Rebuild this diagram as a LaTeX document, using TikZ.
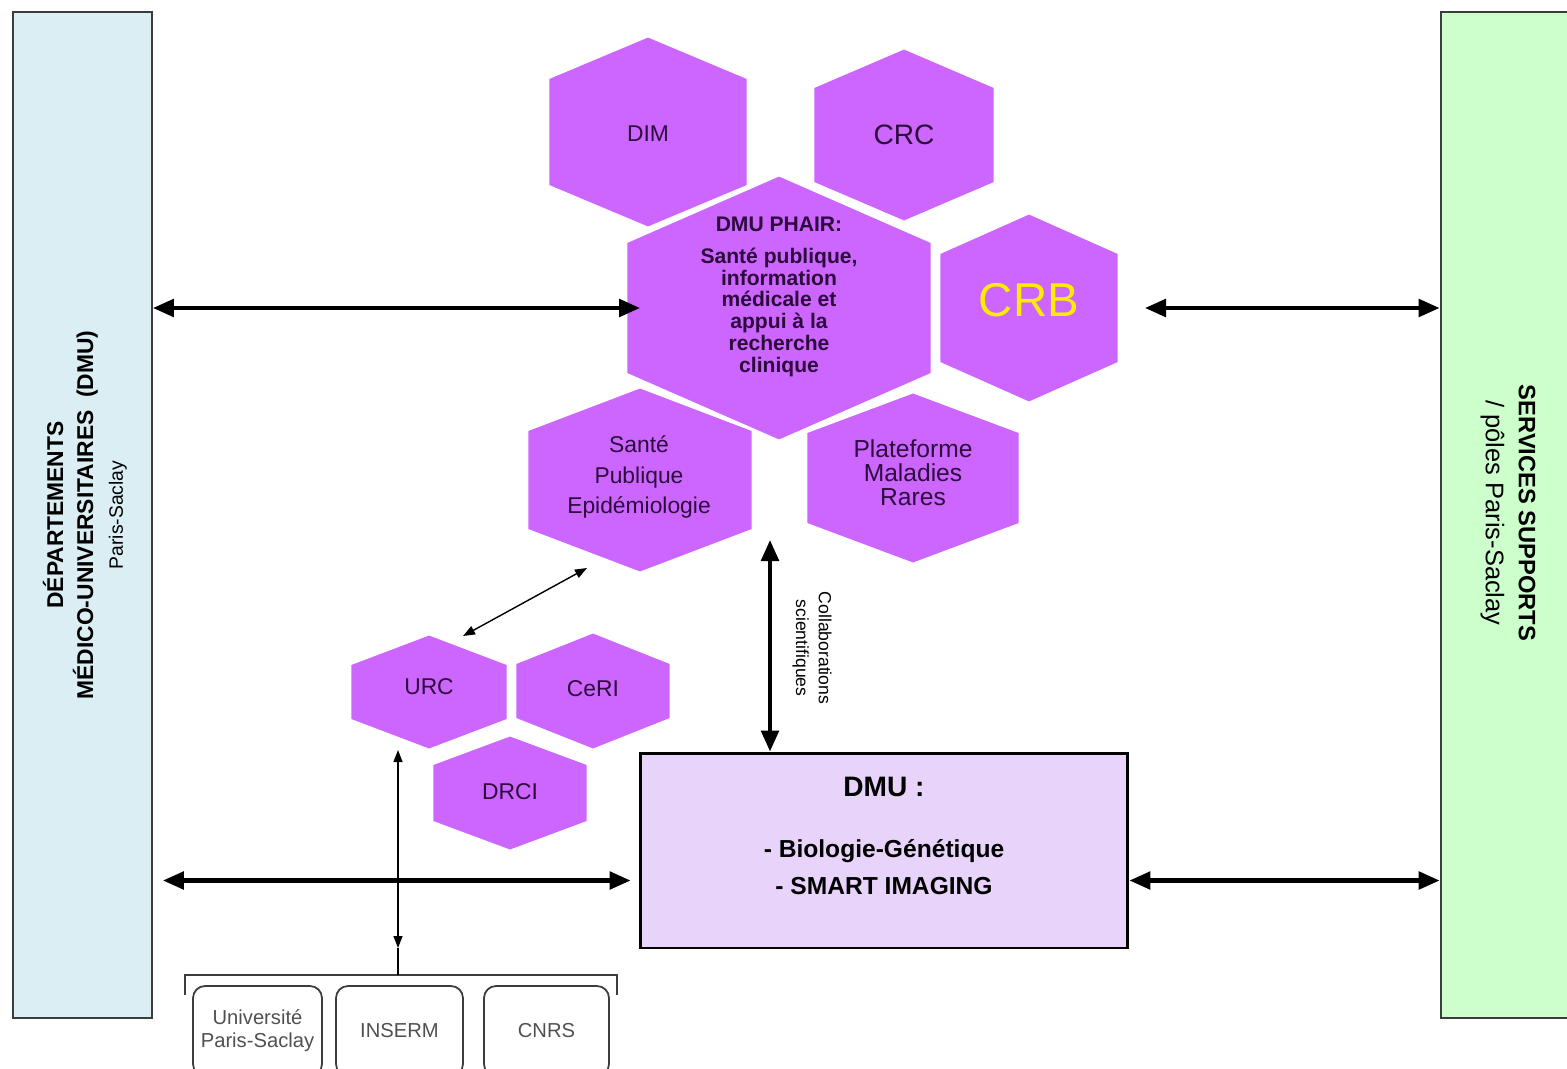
\documentclass[tikz,border=0pt]{standalone}
\usepackage{fontspec}
\setmainfont{Liberation Sans}
\usetikzlibrary{arrows.meta}

\definecolor{hexfill}{RGB}{204,102,255}
\definecolor{hexink}{RGB}{45,10,60}
\definecolor{crbyellow}{RGB}{255,236,0}
\definecolor{dmufill}{RGB}{232,212,250}
\definecolor{depfill}{RGB}{218,238,243}
\definecolor{servfill}{RGB}{204,255,204}
\definecolor{boxline}{RGB}{60,60,60}
\definecolor{instink}{RGB}{80,80,80}

\tikzset{
  hexa/.style={fill=hexfill, draw=white, line width=1.5pt},
  hextext/.style={text=hexink, align=center, font=\fontsize{13}{17.5}\selectfont},
  sidebox/.style={draw=boxline, line width=1.1pt, minimum width=2.78cm, minimum height=20.12cm, inner sep=0},
  sidetext/.style={align=center, font=\bfseries\fontsize{13}{17}\selectfont},
  dmubox/.style={draw=black, fill=dmufill, line width=1.7pt, minimum width=9.76cm, minimum height=3.9cm, inner sep=0},
  instbox/.style={draw=boxline, line width=1pt, rounded corners=0.24cm, minimum height=1.8cm, inner sep=0,
                  text=instink, align=center, font=\fontsize{11.5}{13}\selectfont},
  bigarrow/.style={line width=2.3pt, {Triangle[length=4.2mm,width=3.5mm]}-{Triangle[length=4.2mm,width=3.5mm]}},
  thinarrow/.style={line width=0.8pt, {Triangle[length=2.4mm,width=1.8mm]}-{Triangle[length=2.4mm,width=1.8mm]}},
  thinline/.style={line width=0.8pt},
  bracketline/.style={draw=boxline, line width=1.1pt}
}

% hexagon: name, centre x, centre y, half width, half height, shoulder
\newcommand{\hexcell}[6]{%
  \path[hexa] (#2,#3-#5) -- (#2+#4,#3-#6) -- (#2+#4,#3+#6) -- (#2,#3+#5)
              -- (#2-#4,#3+#6) -- (#2-#4,#3-#6) -- cycle;
  \coordinate (#1-n) at (#2,#3-#5);
  \coordinate (#1-s) at (#2,#3+#5);
  \coordinate (#1-e) at (#2+#4,#3);
  \coordinate (#1-w) at (#2-#4,#3);
}

\begin{document}
\begin{tikzpicture}[x=0.02cm, y=-0.02cm]
\useasboundingbox (0,0) rectangle (1567,1068);
\clip (0,0) rectangle (1567,1068);

% side columns
\node[sidebox, fill=depfill] (dep) at (82.5,515) {};
\node[sidebox, fill=servfill] (serv) at (1510,515) {};
\node[sidetext, rotate=90] (deptext) at (85,515)
  {DÉPARTEMENTS\\MÉDICO-UNIVERSITAIRES\ \ (DMU)\\{\mdseries\fontsize{11}{17}\selectfont Paris-Saclay}};
\node[sidetext, rotate=-90, font=\bfseries\fontsize{13.5}{18.7}\selectfont] (servtext) at (1508,513)
  {SERVICES SUPPORTS\\{\mdseries\fontsize{14.5}{18.7}\selectfont / pôles Paris-Saclay}};

% hexagons
\hexcell{dim}{648}{132}{100}{96}{54}
\hexcell{crc}{904}{135}{91}{87}{48}
\hexcell{phair}{779}{308}{153}{133}{66}
\hexcell{crb}{1029}{308}{90}{95}{55}
\hexcell{sante}{640}{480}{113}{93}{50}
\hexcell{pmr}{913}{478}{107}{86}{46}
\hexcell{urc}{429}{692}{79}{58}{28}
\hexcell{ceri}{593}{691}{78}{59}{28}
\hexcell{drci}{510}{793}{78}{58}{29}

\node[hextext] (dim) at (648,134) {DIM};
\node[hextext, font=\fontsize{16}{18}\selectfont] (crc) at (904,135) {CRC};
\node[hextext, font=\bfseries\fontsize{12}{12.4}\selectfont] (phair) at (779,297)
  {DMU PHAIR:\\[5.6pt]Santé publique,\\information\\médicale et\\appui à la\\recherche\\clinique};
\node[hextext, text=crbyellow, font=\fontsize{27}{30}\selectfont] (crb) at (1029,300) {CRB};
\node[hextext] (sante) at (639,477) {Santé\\Publique\\Epidémiologie};
\node[hextext, font=\fontsize{14}{13.6}\selectfont] (pmr) at (913,473) {Plateforme\\Maladies\\Rares};
\node[hextext] (urc) at (429,687) {URC};
\node[hextext] (ceri) at (593,689) {CeRI};
\node[hextext] (drci) at (510,792) {DRCI};

% DMU box
\node[dmubox] (dmu) at (884,850.5) {};
\node[align=center, font=\bfseries\fontsize{14}{21}\selectfont] (dmutext) at (884,836)
  {{\fontsize{16}{19}\selectfont DMU :}\\[13.6pt]- Biologie-Génétique\\- SMART IMAGING};

% partners
\node[instbox, minimum width=2.58cm] (univ) at (257.5,1031) {Université\\Paris-Saclay};
\node[instbox, minimum width=2.54cm] (inserm) at (399.5,1031) {INSERM};
\node[instbox, minimum width=2.5cm] (cnrs) at (546.5,1031) {CNRS};
\coordinate (inst) at (398,975);
\draw[bracketline] (185,995) |- (inst) -| (617,995);

% links
\draw[bigarrow] (dep.east |- phair-w) -- ([xshift=0.28cm]phair-w);
\draw[bigarrow] ([xshift=0.52cm]crb-e) -- (serv.west |- crb-e);
\coordinate (dmu-low) at ([yshift=-0.6cm]dmu.west);
\draw[bigarrow, shorten <=0.2cm, shorten >=0.16cm] (dep.east |- dmu-low) -- (dmu-low);
\draw[bigarrow] (dmu.east |- dmu-low) -- (serv.west |- dmu-low);
\coordinate (collab) at (770,540);
\draw[bigarrow] (collab) -- (collab |- dmu.north);
\node[rotate=-90, align=center, font=\fontsize{10}{13}\selectfont] (collabtext) at (812,648)
  {Collaborations\\scientifiques};

\coordinate (urc-link) at (463,636);
\coordinate (sante-link) at (587,568);
\draw[thinarrow] (urc-link) -- (sante-link);
\draw[thinarrow] (inst |- urc-s) -- ([yshift=0.54cm]inst);
\draw[thinline] ([yshift=0.54cm]inst) -- (inst);
\end{tikzpicture}
\end{document}
